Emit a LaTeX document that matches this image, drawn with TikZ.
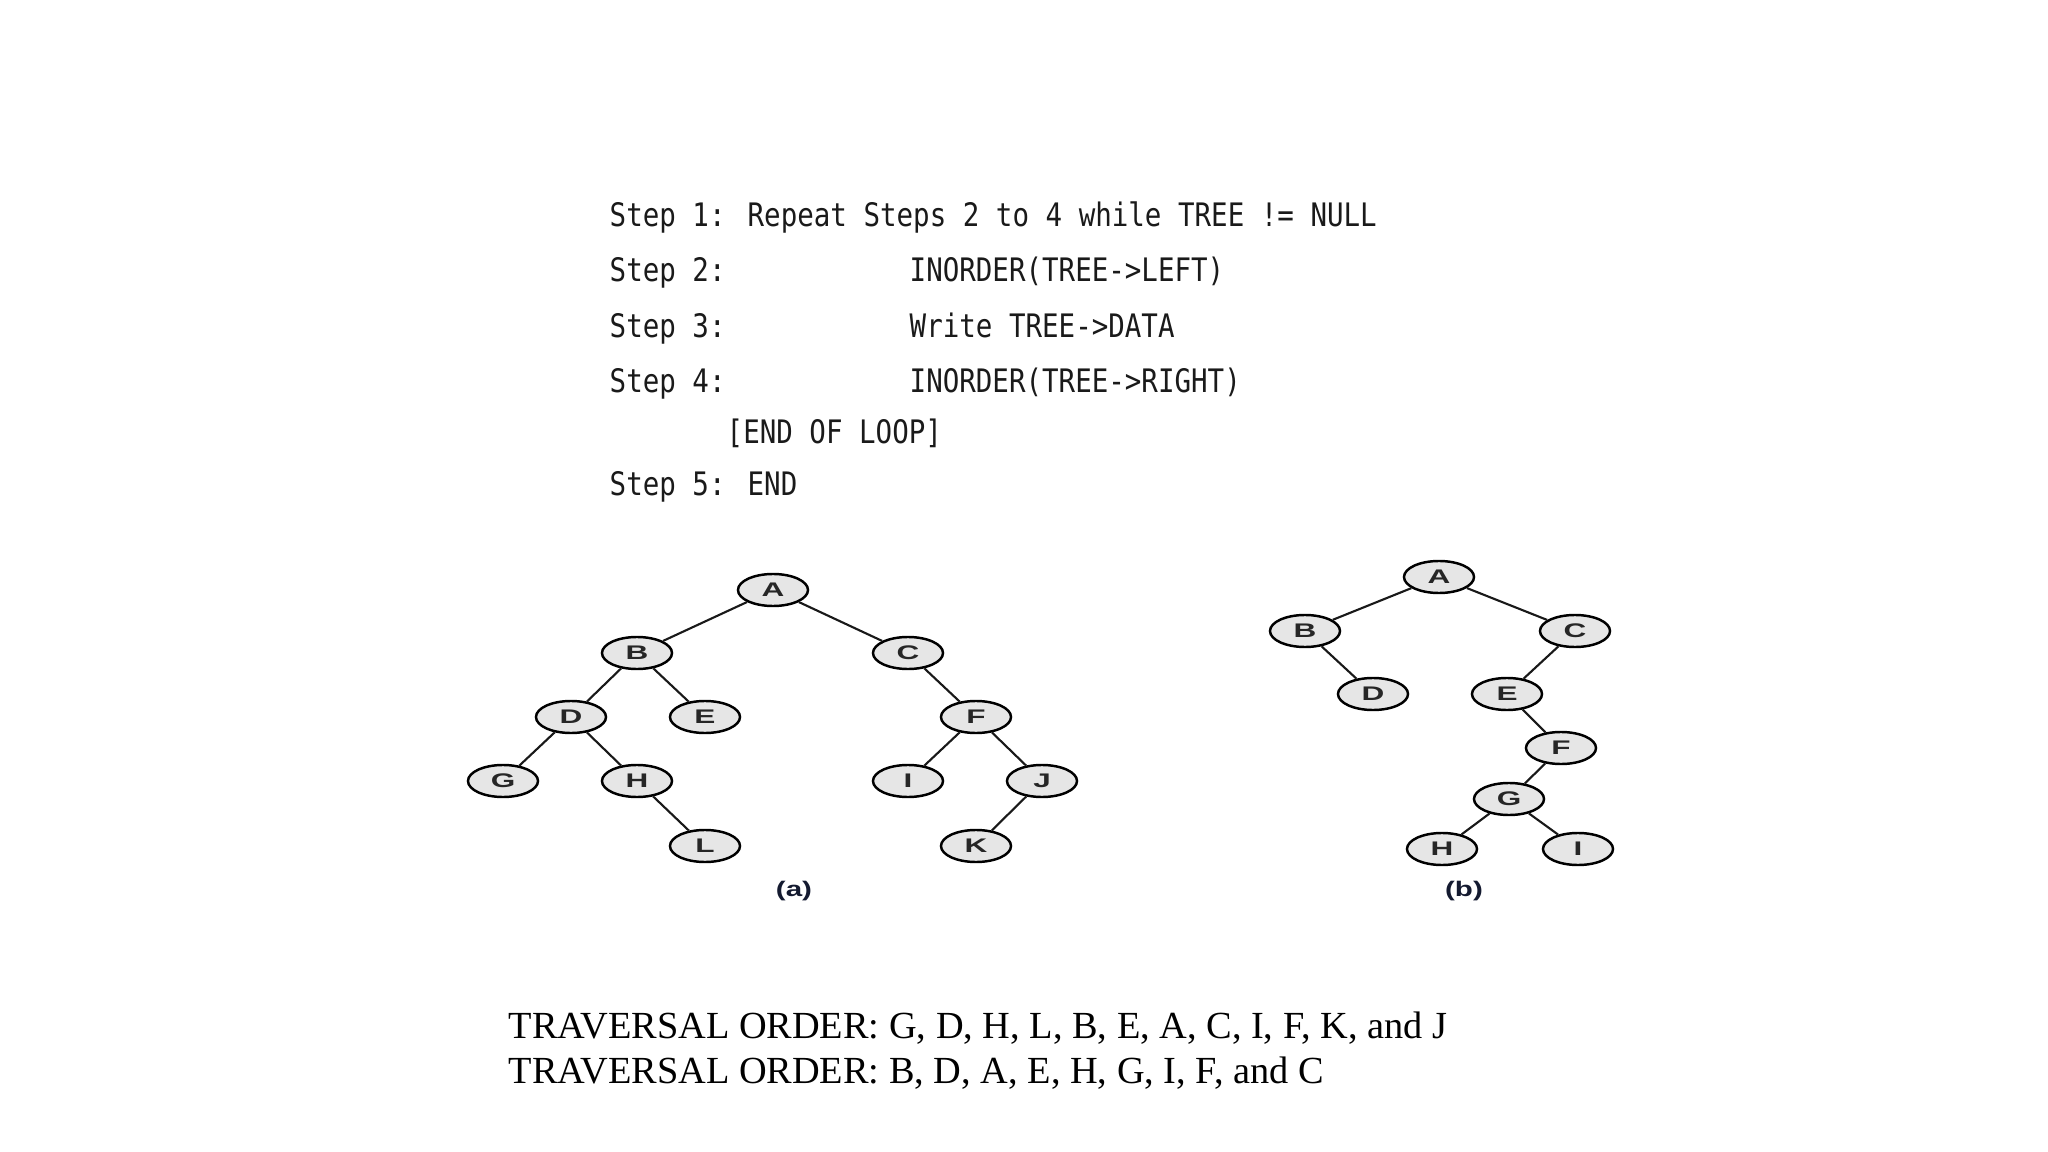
\documentclass[tikz,border=0pt]{standalone}
\usepackage{fontspec}
\setmainfont{Liberation Serif}
\newfontfamily\codefont[FakeStretch=0.85]{DejaVu Sans Mono}
\newfontfamily\nodefont[FakeStretch=1.6]{Liberation Sans}
\newfontfamily\capfont[FakeStretch=1.4]{Liberation Sans}
\usetikzlibrary{shapes.geometric}
\definecolor{nodefill}{HTML}{E6E6E6}
\definecolor{txtdark}{HTML}{1A1A1A}
\definecolor{capnavy}{HTML}{141A30}
\tikzset{
  tnode/.style={ellipse, draw=black, line width=0.7pt, fill=nodefill,
    minimum width=0.70cm, minimum height=0.32cm, inner sep=0pt,
    font=\nodefont\bfseries\fontsize{5.6}{6}\selectfont, text=black!85},
  treeline/.style={line width=0.6pt, draw=black!90},
  codeline/.style={anchor=base west, inner sep=0pt,
    font=\codefont\fontsize{9.2}{11}\selectfont, text=txtdark},
  trav/.style={anchor=base west, inner sep=0pt,
    font=\fontsize{10.9}{13}\selectfont, text=black},
  captext/.style={inner sep=0pt, font=\capfont\bfseries\fontsize{6}{7}\selectfont, text=capnavy}
}
\begin{document}
\begin{tikzpicture}[x=0.01cm, y=-0.01cm]
\useasboundingbox[fill=white] (0,0) rectangle (2048,1152);

% algorithm
\node[codeline] (s1) at (609,227) {Step 1: Repeat Steps 2 to 4 while TREE != NULL};
\node[codeline] (s2) at (609,282) {Step 2:};
\node[codeline] (s2r) at (909,282) {INORDER(TREE->LEFT)};
\node[codeline] (s3) at (609,338) {Step 3:};
\node[codeline] (s3r) at (909,338) {Write TREE->DATA};
\node[codeline] (s4) at (609,393) {Step 4:};
\node[codeline] (s4r) at (909,393) {INORDER(TREE->RIGHT)};
\node[codeline] (eol) at (726,444) {[END OF LOOP]};
\node[codeline] (s5) at (609,496) {Step 5: END};

% tree (a)
\node[tnode] (aA) at (773,590) {A};
\node[tnode] (aB) at (637,653) {B};
\node[tnode] (aC) at (908,653) {C};
\node[tnode] (aD) at (571,717) {D};
\node[tnode] (aE) at (705,717) {E};
\node[tnode] (aF) at (976,717) {F};
\node[tnode] (aG) at (503,781) {G};
\node[tnode] (aH) at (637,781) {H};
\node[tnode] (aI) at (908,781) {I};
\node[tnode] (aJ) at (1042,781) {J};
\node[tnode] (aL) at (705,846) {L};
\node[tnode] (aK) at (976,846) {K};
\draw[treeline] (aA) -- (aB);
\draw[treeline] (aA) -- (aC);
\draw[treeline] (aB) -- (aD);
\draw[treeline] (aB) -- (aE);
\draw[treeline] (aD) -- (aG);
\draw[treeline] (aD) -- (aH);
\draw[treeline] (aH) -- (aL);
\draw[treeline] (aC) -- (aF);
\draw[treeline] (aF) -- (aI);
\draw[treeline] (aF) -- (aJ);
\draw[treeline] (aJ) -- (aK);
\node[captext] (capa) at (794,891) {(a)};

% tree (b)
\node[tnode] (bA) at (1439,577) {A};
\node[tnode] (bB) at (1305,631) {B};
\node[tnode] (bC) at (1575,631) {C};
\node[tnode] (bD) at (1373,694) {D};
\node[tnode] (bE) at (1507,694) {E};
\node[tnode] (bF) at (1561,748) {F};
\node[tnode] (bG) at (1509,799) {G};
\node[tnode] (bH) at (1442,849) {H};
\node[tnode] (bI) at (1578,849) {I};
\draw[treeline] (bA) -- (bB);
\draw[treeline] (bA) -- (bC);
\draw[treeline] (bB) -- (bD);
\draw[treeline] (bC) -- (bE);
\draw[treeline] (bE) -- (bF);
\draw[treeline] (bF) -- (bG);
\draw[treeline] (bG) -- (bH);
\draw[treeline] (bG) -- (bI);
\node[captext] (capb) at (1464,891) {(b)};

% traversal orders
\node[trav] (t1) at (508,1038) {TRAVERSAL ORDER: G, D, H, L, B, E, A, C, I, F, K, and J};
\node[trav] (t2) at (508,1083) {TRAVERSAL ORDER: B, D, A, E, H, G, I, F, and C};
\end{tikzpicture}
\end{document}
